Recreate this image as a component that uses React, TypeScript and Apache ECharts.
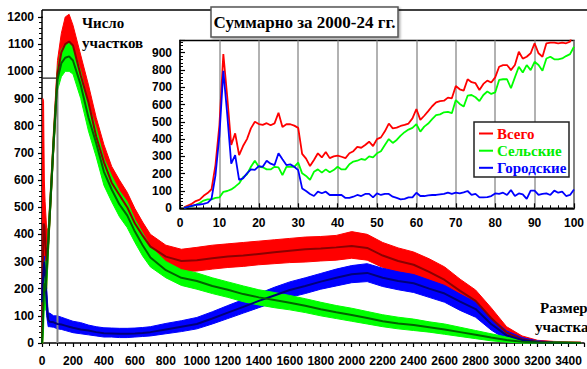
import React, { useEffect, useRef } from 'react';
import * as echarts from 'echarts';

// ---------- main chart (size of plot, 0..3480) ----------
const mainX = [0, 5, 10, 15, 20, 30, 40, 50, 75, 100,
  125, 150, 175, 200,
  250, 300, 350, 400, 450, 500, 550, 600, 650, 700,
  800, 900, 1000, 1100, 1200, 1300, 1400, 1500, 1600, 1700, 1800, 1900, 2000, 2100, 2200, 2300, 2400, 2500, 2600, 2700, 2800, 2900, 3000, 3100, 3200, 3300, 3400,
  3480];

const redSmooth = [0, 250, 440, 430, 380, 300, 370, 475, 740, 990,
  1070, 1100, 1110, 1095,
  985, 885, 760, 665, 590, 545, 500, 440, 395, 355,
  318, 302, 305, 312, 318, 322, 328, 334, 340, 345, 348, 352, 357, 350, 322, 302, 288, 262, 232, 192, 155, 92, 38, 14, 5, 2, 1,
  1];
const greenSmooth = [0, 60, 150, 220, 190, 260, 370, 470, 740, 970,
  1030, 1050, 1055, 1040,
  950, 830, 735, 630, 565, 510, 470, 410, 360, 315,
  268, 240, 228, 210, 196, 180, 168, 158, 148, 137, 124, 113, 103, 92, 80, 72, 66, 58, 50, 40, 30, 20, 11, 5, 2, 1, 1,
  0];
const blueSmooth = [150, 220, 270, 300, 260, 150, 85, 78, 76, 70,
  68, 64, 60, 56,
  50, 46, 40, 36, 35, 34, 34, 35, 37, 40,
  50, 60, 70, 90, 112, 133, 155, 175, 195, 210, 226, 240, 253, 258, 240, 228, 220, 200, 182, 152, 125, 70, 28, 11, 3, 1, 0,
  0];

// noisy raw data, read as upper / lower envelopes
const redHigh = [0, 900, 890, 600, 520, 420, 420, 520, 790, 1040,
  1140, 1200, 1210, 1170,
  1060, 950, 830, 730, 650, 600, 555, 495, 445, 400,
  360, 345, 352, 360, 365, 370, 375, 380, 385, 390, 392, 396, 410, 400, 370, 350, 335, 310, 280, 235, 195, 130, 60, 26, 10, 6, 4,
  3];
const redLow = [0, 0, 200, 300, 250, 200, 320, 430, 700, 940,
  1010, 1030, 1040, 1030,
  930, 830, 700, 610, 540, 500, 455, 400, 355, 310,
  280, 262, 265, 272, 278, 282, 288, 292, 296, 298, 302, 305, 312, 305, 278, 258, 245, 222, 190, 152, 118, 60, 18, 5, 0, 0, 0,
  0];
const greenHigh = [0, 150, 250, 300, 280, 320, 420, 510, 780, 1010,
  1080, 1100, 1110, 1090,
  1000, 880, 790, 680, 615, 560, 520, 455, 405, 355,
  300, 270, 258, 240, 225, 210, 196, 186, 175, 163, 150, 138, 128, 116, 104, 95, 88, 78, 70, 58, 46, 34, 22, 12, 6, 4, 3,
  2];
const greenLow = [0, 0, 50, 150, 120, 200, 320, 430, 700, 930,
  980, 1000, 1000, 990,
  900, 780, 685, 580, 520, 465, 425, 370, 320, 280,
  240, 212, 198, 182, 168, 152, 140, 130, 122, 112, 100, 90, 80, 70, 60, 52, 46, 40, 32, 24, 16, 8, 3, 0, 0, 0, 0,
  0];
const blueHigh = [210, 270, 310, 320, 290, 200, 110, 110, 100, 100,
  95, 90, 85, 80,
  75, 66, 60, 56, 55, 54, 54, 55, 57, 60,
  72, 82, 94, 115, 138, 160, 182, 205, 225, 240, 256, 272, 285, 292, 275, 262, 252, 232, 212, 180, 150, 92, 45, 20, 8, 4, 2,
  1];
const blueLow = [0, 160, 210, 250, 200, 100, 60, 60, 58, 52,
  50, 46, 42, 38,
  34, 30, 26, 22, 22, 20, 20, 22, 24, 26,
  34, 42, 52, 70, 90, 110, 130, 150, 168, 182, 198, 210, 222, 226, 208, 196, 186, 168, 150, 120, 95, 48, 12, 3, 0, 0, 0,
  0];

// reference marks on the main chart (inset range 0..100)
const refX = 100;
const refY = 975;

// ---------- inset: sizes 1..100, totals 2000-24 ----------
const insetRed = [6, 16, 26, 42, 50, 72, 88, 110, 250, 480,
  892, 642, 366, 433, 308, 360, 400, 462, 500, 487,
  482, 492, 480, 491, 552, 470, 486, 486, 478, 465,
  315, 287, 244, 279, 318, 294, 325, 290, 300, 305,
  298, 290, 318, 330, 355, 350, 366, 385, 360, 400,
  410, 445, 490, 462, 466, 476, 482, 490, 520, 574,
  511, 535, 562, 590, 612, 620, 622, 640, 636, 707,
  688, 680, 746, 729, 723, 684, 719, 738, 727, 757,
  818, 828, 828, 799, 828, 905, 865, 876, 896, 954,
  896, 876, 954, 958, 958, 954, 958, 954, 963, 1043];
const insetGreen = [3, 8, 12, 20, 30, 45, 52, 52, 60, 63,
  95, 100, 109, 125, 144, 179, 196, 240, 275, 240,
  237, 225, 225, 240, 237, 192, 240, 240, 240, 264,
  202, 187, 164, 211, 225, 206, 225, 208, 221, 240,
  225, 225, 255, 270, 275, 285, 280, 300, 294, 318,
  330, 366, 400, 378, 395, 420, 440, 455, 465, 487,
  443, 472, 490, 515, 538, 543, 555, 557, 550, 626,
  603, 588, 651, 655, 642, 620, 655, 675, 661, 670,
  742, 746, 746, 694, 757, 818, 785, 828, 799, 847,
  828, 795, 866, 876, 861, 861, 866, 880, 891, 934];
const insetBlue = [3, 8, 14, 20, 22, 25, 32, 55, 190, 420,
  795, 540, 258, 308, 164, 173, 202, 225, 222, 244,
  240, 275, 258, 250, 318, 283, 250, 254, 240, 221,
  115, 100, 83, 71, 96, 87, 96, 77, 77, 77,
  77, 60, 60, 67, 77, 71, 83, 83, 63, 86,
  77, 83, 83, 67, 60, 52, 55, 63, 63, 90,
  71, 71, 75, 77, 77, 80, 83, 90, 83, 90,
  86, 92, 100, 77, 83, 63, 63, 65, 71, 86,
  83, 90, 77, 106, 71, 86, 80, 54, 102, 102,
  77, 83, 86, 77, 102, 90, 96, 71, 77, 109];

const insetNames = ['Всего', 'Сельские', 'Городские'];

const pairs = (xs: number[], ys: number[]) => xs.map((x, i) => [x, ys[i]]);
const insetPairs = (ys: number[]) => ys.map((y, i) => [i + 1, y]);

const SANS = '"Liberation Sans", Arial, sans-serif';
const SERIF = '"Liberation Serif", "Times New Roman", serif';

// noisy raw band: polygon between lower and upper envelope, placed by the axes
function band(name: string, low: number[], high: number[], color: string) {
  return {
    type: 'custom', name, xAxisIndex: 0, yAxisIndex: 0, silent: true,
    data: mainX.map((x, i) => [x, low[i], high[i]]),
    encode: { x: 0, y: [1, 2] },
    renderItem: (params: any, api: any) => {
      if (params.dataIndex !== 0) return null;
      const top = mainX.map((x, i) => api.coord([x, high[i]]));
      const bottom = mainX.map((x, i) => api.coord([x, low[i]])).reverse();
      return {
        type: 'polygon',
        shape: { points: top.concat(bottom) },
        style: { fill: color, stroke: color, lineWidth: 1 },
      };
    },
  };
}

function smooth(name: string, ys: number[], color: string) {
  return {
    type: 'line', name, xAxisIndex: 0, yAxisIndex: 0,
    data: pairs(mainX, ys), symbol: 'none', silent: true,
    lineStyle: { width: 2, color },
  };
}

export default function App() {
  const ref = useRef<HTMLDivElement>(null);
  useEffect(() => {
    const chart = echarts.init(ref.current!, null, { renderer: 'svg' });
    const axisLabel = { color: '#000', fontFamily: SANS, fontWeight: 'bold' as const, fontSize: 12 };
    const option: any = {
      animation: false,
      backgroundColor: '#fff',
      grid: [
        { left: 42, top: 17, width: 549, height: 326 },
        { left: 180, top: 40.5, width: 398, height: 167.8, show: true, borderColor: '#000', borderWidth: 1.5, backgroundColor: '#fff' },
      ],
      xAxis: [
        {
          type: 'value', gridIndex: 0, min: 0, max: 3500, interval: 200,
          axisLine: { show: true, onZero: false, lineStyle: { color: '#000', width: 1.5 } },
          axisTick: { show: true, length: 4, lineStyle: { color: '#000', width: 1.2 } },
          minorTick: { show: true, splitNumber: 4, length: 3, lineStyle: { color: '#000', width: 1 } },
          axisLabel: { ...axisLabel, margin: 12, formatter: (v: number) => (v > 3400 ? '' : String(v)) },
          splitLine: { show: false },
        },
        {
          type: 'value', gridIndex: 1, min: 0, max: 100, interval: 10,
          axisLine: { show: true, onZero: false, lineStyle: { color: '#000', width: 1.5 } },
          axisTick: { show: true, inside: true, length: 5, lineStyle: { color: '#000', width: 1.2 } },
          minorTick: { show: true, splitNumber: 5, length: 3, lineStyle: { color: '#000', width: 1 } },
          axisLabel: { ...axisLabel, margin: 9, formatter: (v: number) => String(v) },
          splitLine: { show: true, lineStyle: { color: '#999', width: 1.5 } },
        },
      ],
      yAxis: [
        {
          type: 'value', gridIndex: 0, min: 0, max: 1200, interval: 100,
          axisLine: { show: true, onZero: false, lineStyle: { color: '#000', width: 1.5 } },
          axisTick: { show: true, length: 4, lineStyle: { color: '#000', width: 1.2 } },
          minorTick: { show: true, splitNumber: 5, length: 3, lineStyle: { color: '#000', width: 1 } },
          axisLabel: { ...axisLabel, margin: 8, formatter: (v: number) => String(v) },
          splitLine: { show: false },
        },
        {
          type: 'value', gridIndex: 1, min: 0, max: 970, interval: 100,
          axisLine: { show: true, onZero: false, lineStyle: { color: '#000', width: 1.5 } },
          axisTick: { show: true, inside: true, length: 5, lineStyle: { color: '#000', width: 1.2 } },
          minorTick: { show: true, splitNumber: 5, length: 3, lineStyle: { color: '#000', width: 1 } },
          axisLabel: { ...axisLabel, margin: 8, formatter: (v: number) => (v > 900 ? '' : String(v)) },
          splitLine: { show: false },
        },
      ],
      series: [
        band('Всего (данные)', redLow, redHigh, '#ff0000'),
        band('Городские (данные)', blueLow, blueHigh, '#0000ff'),
        band('Сельские (данные)', greenLow, greenHigh, '#00ff00'),
        {
          type: 'line', name: 'ref-v', xAxisIndex: 0, yAxisIndex: 0, symbol: 'none', silent: true,
          data: [[refX, 0], [refX, refY]], lineStyle: { color: '#888', width: 2 },
        },
        {
          type: 'line', name: 'ref-h', xAxisIndex: 0, yAxisIndex: 0, symbol: 'none', silent: true,
          data: [[0, refY], [refX, refY]], lineStyle: { color: '#222', width: 1.2 },
        },
        smooth('Всего (сглаж.)', redSmooth, '#8b0000'),
        smooth('Городские (сглаж.)', blueSmooth, '#00007a'),
        smooth('Сельские (сглаж.)', greenSmooth, '#006400'),
        {
          type: 'line', name: insetNames[0], xAxisIndex: 1, yAxisIndex: 1, symbol: 'none', clip: true,
          data: insetPairs(insetRed), lineStyle: { color: '#ff0000', width: 1.8 },
        },
        {
          type: 'line', name: insetNames[1], xAxisIndex: 1, yAxisIndex: 1, symbol: 'none', clip: true,
          data: insetPairs(insetGreen), lineStyle: { color: '#00ff00', width: 1.8 },
        },
        {
          type: 'line', name: insetNames[2], xAxisIndex: 1, yAxisIndex: 1, symbol: 'none', clip: true,
          data: insetPairs(insetBlue), lineStyle: { color: '#0000ff', width: 1.8 },
        },
      ],
      graphic: [
        { type: 'line', z: 100, shape: { x1: 42, y1: 10, x2: 587, y2: 10 }, style: { stroke: '#000', lineWidth: 1.5 } },
        { type: 'line', z: 100, shape: { x1: 42, y1: 10, x2: 42, y2: 18 }, style: { stroke: '#000', lineWidth: 1.5 } },
        { type: 'text', z: 100, style: { text: 'Число', x: 82, y: 23, font: `bold 15px ${SERIF}`, fill: '#000', verticalAlign: 'middle' } },
        { type: 'text', z: 100, style: { text: 'участков', x: 82, y: 43, font: `bold 15px ${SERIF}`, fill: '#000', verticalAlign: 'middle' } },
        {
          type: 'rect', z: 100, shape: { x: 211, y: 7, width: 187, height: 30 },
          style: { fill: '#fff', stroke: '#555', lineWidth: 1.5, shadowBlur: 2, shadowOffsetX: 1.5, shadowOffsetY: 1.5, shadowColor: 'rgba(0,0,0,0.35)' },
        },
        { type: 'text', z: 101, style: { text: 'Суммарно за 2000-24 гг.', x: 304.5, y: 22, font: `bold 17px ${SERIF}`, fill: '#000', align: 'center', verticalAlign: 'middle' } },
        { type: 'rect', z: 100, shape: { x: 474, y: 122, width: 95, height: 55 }, style: { fill: '#fff', stroke: '#222', lineWidth: 1.5 } },
        { type: 'line', z: 101, shape: { x1: 479, y1: 133.5, x2: 493, y2: 133.5 }, style: { stroke: '#ff0000', lineWidth: 2 } },
        { type: 'line', z: 101, shape: { x1: 479, y1: 150.7, x2: 493, y2: 150.7 }, style: { stroke: '#00ff00', lineWidth: 2 } },
        { type: 'line', z: 101, shape: { x1: 479, y1: 167.8, x2: 493, y2: 167.8 }, style: { stroke: '#0000ff', lineWidth: 2 } },
        { type: 'text', z: 101, style: { text: insetNames[0], x: 497, y: 133.5, font: `bold 15px ${SERIF}`, fill: '#ff0000', verticalAlign: 'middle' } },
        { type: 'text', z: 101, style: { text: insetNames[1], x: 497, y: 150.7, font: `bold 15px ${SERIF}`, fill: '#00ee00', verticalAlign: 'middle' } },
        { type: 'text', z: 101, style: { text: insetNames[2], x: 497, y: 167.8, font: `bold 15px ${SERIF}`, fill: '#0000ff', verticalAlign: 'middle' } },
        { type: 'text', z: 100, style: { text: 'Размер', x: 540, y: 308, font: `bold 15px ${SERIF}`, fill: '#000', verticalAlign: 'middle' } },
        { type: 'text', z: 100, style: { text: 'участка', x: 535, y: 327, font: `bold 15px ${SERIF}`, fill: '#000', verticalAlign: 'middle' } },
      ],
    };
    chart.setOption(option);
    return () => chart.dispose();
  }, []);
  return <div ref={ref} style={{ position: 'fixed', left: 0, top: 0, width: 587, height: 369 }} />;
}
